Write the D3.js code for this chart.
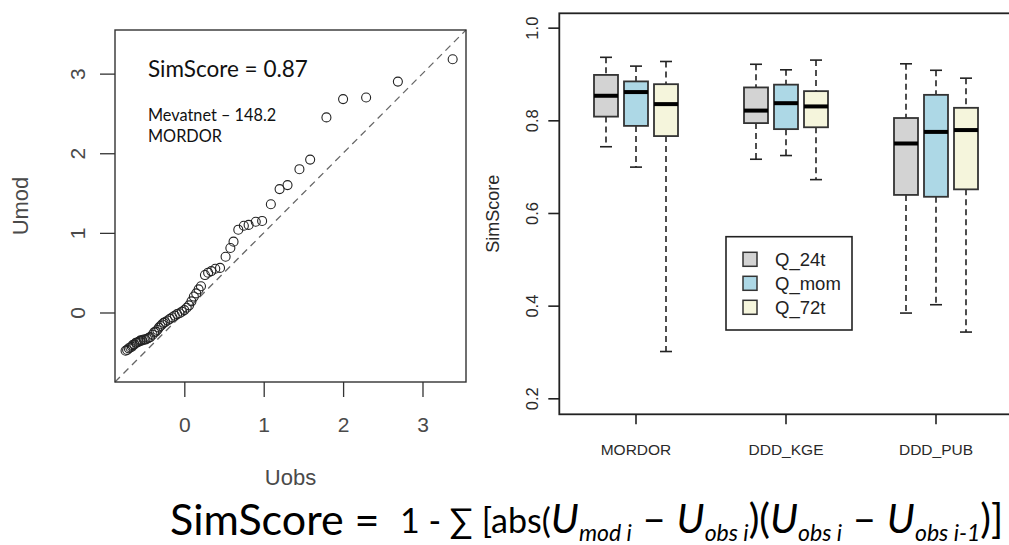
<!DOCTYPE html>
<html lang="en">
<head>
  <meta charset="UTF-8">
  <title>SimScore</title>
  <script src="https://d3js.org/d3.v7.min.js"></script>
  <style>
    body { margin: 0; background: #fff; }
    svg { display: block; }
    .rfont { font-family: 'Liberation Sans', Arial, sans-serif; }
    .cal { font-family: 'Lato', 'Open Sans', sans-serif; }
  </style>
</head>
<body>
  <svg id="chart" width="1009" height="545"></svg>

  <script>
    // Q-Q type points, left panel
    const uobs = [-0.74, -0.72, -0.70, -0.68, -0.66, -0.65, -0.63, -0.61, -0.60, -0.58,
                  -0.56, -0.55, -0.53, -0.51, -0.49, -0.47, -0.45, -0.43, -0.40, -0.38,
                  -0.36, -0.34, -0.32, -0.30, -0.28, -0.26, -0.24, -0.21, -0.18, -0.15,
                  -0.12, -0.09, -0.06, -0.03, 0.00, 0.03, 0.06, 0.09, 0.12, 0.15,
                  0.18, 0.21, 0.26, 0.30, 0.34, 0.39, 0.45, 0.52, 0.58, 0.62,
                  0.68, 0.75, 0.81, 0.90, 0.98, 1.09, 1.20, 1.30, 1.45, 1.585,
                  1.79, 2.00, 2.29, 2.69, 3.38];
    const umod = [-0.48, -0.47, -0.45, -0.44, -0.43, -0.41, -0.40, -0.38, -0.38, -0.37,
                  -0.36, -0.35, -0.35, -0.34, -0.34, -0.33, -0.32, -0.31, -0.28, -0.25,
                  -0.24, -0.22, -0.19, -0.17, -0.15, -0.13, -0.12, -0.10, -0.08, -0.06,
                  -0.04, -0.02, -0.01, 0.01, 0.03, 0.06, 0.09, 0.14, 0.20, 0.24,
                  0.29, 0.33, 0.47, 0.50, 0.52, 0.55, 0.56, 0.70, 0.81, 0.89,
                  1.04, 1.09, 1.10, 1.14, 1.15, 1.36, 1.55, 1.60, 1.80, 1.92,
                  2.45, 2.68, 2.70, 2.90, 3.18];
    const uTicks = [0, 1, 2, 3];
    const uLimits = [-0.873, 3.548];

    // boxplots, right panel: [group][series]
    const groups = ["MORDOR", "DDD_KGE", "DDD_PUB"];
    const series = ["Q_24t", "Q_mom", "Q_72t"];
    const seriesColors = ["#d3d3d3", "#add8e6", "#f5f5dc"];
    const whiskerLow  = [[0.743, 0.699, 0.301], [0.716, 0.724, 0.672], [0.384, 0.402, 0.343]];
    const hingeLow    = [[0.808, 0.788, 0.766], [0.794, 0.781, 0.785], [0.639, 0.635, 0.651]];
    const medians     = [[0.853, 0.861, 0.835], [0.821, 0.837, 0.830], [0.750, 0.775, 0.779]];
    const hingeHigh   = [[0.898, 0.884, 0.878], [0.871, 0.877, 0.863], [0.805, 0.855, 0.827]];
    const whiskerHigh = [[0.936, 0.917, 0.927], [0.921, 0.909, 0.930], [0.922, 0.908, 0.891]];
    const scoreTicks = [0.2, 0.4, 0.6, 0.8, 1.0];
    const scoreLimits = [0.1655, 1.031];

    const svg = d3.select("#chart");

    // ---------- left panel ----------
    const L = { left: 115, right: 466, top: 30, bottom: 382 };
    const x = d3.scaleLinear().domain(uLimits).range([L.left, L.right]);
    const y = d3.scaleLinear().domain(uLimits).range([L.bottom, L.top]);

    const xAx = svg.append("g")
      .attr("transform", `translate(0,${L.bottom})`)
      .call(d3.axisBottom(x).tickValues(uTicks).tickFormat(d3.format("d")).tickSize(15).tickPadding(20));
    const yAx = svg.append("g")
      .attr("transform", `translate(${L.left},0)`)
      .call(d3.axisLeft(y).tickValues(uTicks).tickFormat(d3.format("d")).tickSize(15));
    [xAx, yAx].forEach(g => {
      g.select(".domain").remove();
      g.selectAll("line").attr("stroke", "#333").attr("stroke-width", 1.3);
      g.selectAll("text").attr("class", "rfont").attr("font-size", 21).attr("fill", "#4a4a4a");
    });
    yAx.selectAll("text")
      .attr("transform", "rotate(-90)")
      .attr("x", 0).attr("y", -30.5).attr("dy", 0)
      .attr("text-anchor", "middle");

    // 1:1 line
    svg.append("line")
      .attr("x1", x(uLimits[0])).attr("y1", y(uLimits[0]))
      .attr("x2", x(uLimits[1])).attr("y2", y(uLimits[1]))
      .attr("stroke", "#666").attr("stroke-width", 1.3).attr("stroke-dasharray", "7,5");

    svg.append("g").selectAll("circle")
      .data(uobs.map((u, i) => [u, umod[i]]))
      .enter().append("circle")
      .attr("cx", d => x(d[0])).attr("cy", d => y(d[1]))
      .attr("r", 4.5)
      .attr("fill", "none").attr("stroke", "#222").attr("stroke-width", 1.1);

    svg.append("rect")
      .attr("x", L.left).attr("y", L.top)
      .attr("width", L.right - L.left).attr("height", L.bottom - L.top)
      .attr("fill", "none").attr("stroke", "#333").attr("stroke-width", 1.4);

    svg.append("text").attr("class", "rfont")
      .attr("x", (L.left + L.right) / 2).attr("y", 485)
      .attr("text-anchor", "middle").attr("font-size", 22).attr("fill", "#4a4a4a")
      .text("Uobs");
    svg.append("text").attr("class", "rfont")
      .attr("transform", `translate(28,${(L.top + L.bottom) / 2}) rotate(-90)`)
      .attr("text-anchor", "middle").attr("font-size", 22).attr("fill", "#4a4a4a")
      .text("Umod");

    svg.append("text").attr("class", "cal")
      .attr("x", 148).attr("y", 77).attr("font-size", 22.5).attr("fill", "#111")
      .text("SimScore = 0.87");
    svg.append("text").attr("class", "cal")
      .attr("x", 148).attr("y", 121).attr("font-size", 16.3).attr("fill", "#111")
      .text("Mevatnet – 148.2");
    svg.append("text").attr("class", "cal")
      .attr("x", 148).attr("y", 142).attr("font-size", 16.3).attr("fill", "#111")
      .text("MORDOR");

    // ---------- right panel ----------
    const R = { left: 559.3, right: 1011, top: 13.3, bottom: 414.3 };
    const gx = d3.scaleBand().domain(groups).range([561, 1011]);
    const sx = d3.scaleBand().domain(series).range([-45, 45]);
    const sy = d3.scaleLinear().domain(scoreLimits).range([R.bottom, R.top]);
    const boxW = sx.bandwidth() * 0.8;

    const rx = svg.append("g")
      .attr("transform", `translate(0,${R.bottom})`)
      .call(d3.axisBottom(gx).tickSize(10).tickPadding(20));
    const ry = svg.append("g")
      .attr("transform", `translate(${R.left},0)`)
      .call(d3.axisLeft(sy).tickValues(scoreTicks).tickFormat(d3.format(".1f")).tickSize(11));
    [rx, ry].forEach(g => {
      g.select(".domain").remove();
      g.selectAll("line").attr("stroke", "#222").attr("stroke-width", 1.6);
      g.selectAll("text").attr("class", "rfont").attr("fill", "#2a2a2a");
    });
    rx.selectAll("text").attr("font-size", 15.5);
    ry.selectAll("text")
      .attr("font-size", 16.5)
      .attr("transform", "rotate(-90)")
      .attr("x", 0).attr("y", -21.7).attr("dy", 0)
      .attr("text-anchor", "middle");

    const boxes = [];
    groups.forEach((g, gi) => series.forEach((s, si) => boxes.push({
      g, s, si,
      lo: whiskerLow[gi][si], q1: hingeLow[gi][si], med: medians[gi][si],
      q3: hingeHigh[gi][si], hi: whiskerHigh[gi][si]
    })));

    const bx = svg.append("g").selectAll("g")
      .data(boxes).enter().append("g")
      .attr("transform", d => `translate(${gx(d.g) + gx.bandwidth() / 2 + sx(d.s) + sx.bandwidth() / 2},0)`);

    bx.append("line")
      .attr("y1", d => sy(d.hi)).attr("y2", d => sy(d.q3))
      .attr("stroke", "#222").attr("stroke-width", 1.6).attr("stroke-dasharray", "6,4");
    bx.append("line")
      .attr("y1", d => sy(d.q1)).attr("y2", d => sy(d.lo))
      .attr("stroke", "#222").attr("stroke-width", 1.6).attr("stroke-dasharray", "6,4");
    bx.append("line")
      .attr("x1", -boxW / 4).attr("x2", boxW / 4)
      .attr("y1", d => sy(d.hi)).attr("y2", d => sy(d.hi))
      .attr("stroke", "#222").attr("stroke-width", 1.6);
    bx.append("line")
      .attr("x1", -boxW / 4).attr("x2", boxW / 4)
      .attr("y1", d => sy(d.lo)).attr("y2", d => sy(d.lo))
      .attr("stroke", "#222").attr("stroke-width", 1.6);
    bx.append("rect")
      .attr("x", -boxW / 2).attr("width", boxW)
      .attr("y", d => sy(d.q3)).attr("height", d => sy(d.q1) - sy(d.q3))
      .attr("fill", d => seriesColors[d.si])
      .attr("stroke", "#333").attr("stroke-width", 1.8);
    bx.append("line")
      .attr("x1", -boxW / 2).attr("x2", boxW / 2)
      .attr("y1", d => sy(d.med)).attr("y2", d => sy(d.med))
      .attr("stroke", "#000").attr("stroke-width", 4);

    svg.append("rect")
      .attr("x", R.left).attr("y", R.top)
      .attr("width", R.right - R.left).attr("height", R.bottom - R.top)
      .attr("fill", "none").attr("stroke", "#222").attr("stroke-width", 1.8);

    svg.append("text").attr("class", "rfont")
      .attr("transform", `translate(499,${(R.top + R.bottom) / 2}) rotate(-90)`)
      .attr("text-anchor", "middle").attr("font-size", 18).attr("fill", "#2a2a2a")
      .text("SimScore");

    // legend
    const lg = svg.append("g").attr("transform", "translate(726,236.7)");
    lg.append("rect").attr("width", 126).attr("height", 93.3)
      .attr("fill", "#fff").attr("stroke", "#222").attr("stroke-width", 1.6);
    const li = lg.selectAll("g.item").data(series).enter().append("g")
      .attr("class", "item")
      .attr("transform", (d, i) => `translate(0,${22.6 + i * 24})`);
    li.append("rect")
      .attr("x", 17).attr("y", -7).attr("width", 14).attr("height", 14)
      .attr("fill", (d, i) => seriesColors[i]).attr("stroke", "#333").attr("stroke-width", 1.5);
    li.append("text").attr("class", "rfont")
      .attr("x", 49).attr("y", 6.5).attr("font-size", 18.5).attr("fill", "#222")
      .text(d => d);

    // ---------- formula ----------
    svg.append("text").attr("class", "cal")
      .attr("x", 170).attr("y", 535).attr("font-size", 43).attr("fill", "#000")
      .text("SimScore =");

    const f = svg.append("text").attr("class", "cal")
      .attr("x", 400).attr("y", 533).attr("fill", "#000").attr("font-size", 40);
    const parts = [
      ["1 - ∑ [abs(", 34, false, 0],
      ["U", 41, true, 0], ["mod i", 23, true, 8], [" – ", 41, false, -8],
      ["U", 41, true, 0], ["obs i", 23, true, 8], [")(", 40, false, -8],
      ["U", 41, true, 0], ["obs i", 23, true, 8], [" – ", 41, false, -8],
      ["U", 41, true, 0], ["obs i-1", 23, true, 8], [")]", 40, false, -8]
    ];
    parts.forEach(p => {
      f.append("tspan")
        .attr("font-size", p[1])
        .attr("font-style", p[2] ? "italic" : "normal")
        .attr("dy", p[3])
        .text(p[0]);
    });
  </script>
</body>
</html>
